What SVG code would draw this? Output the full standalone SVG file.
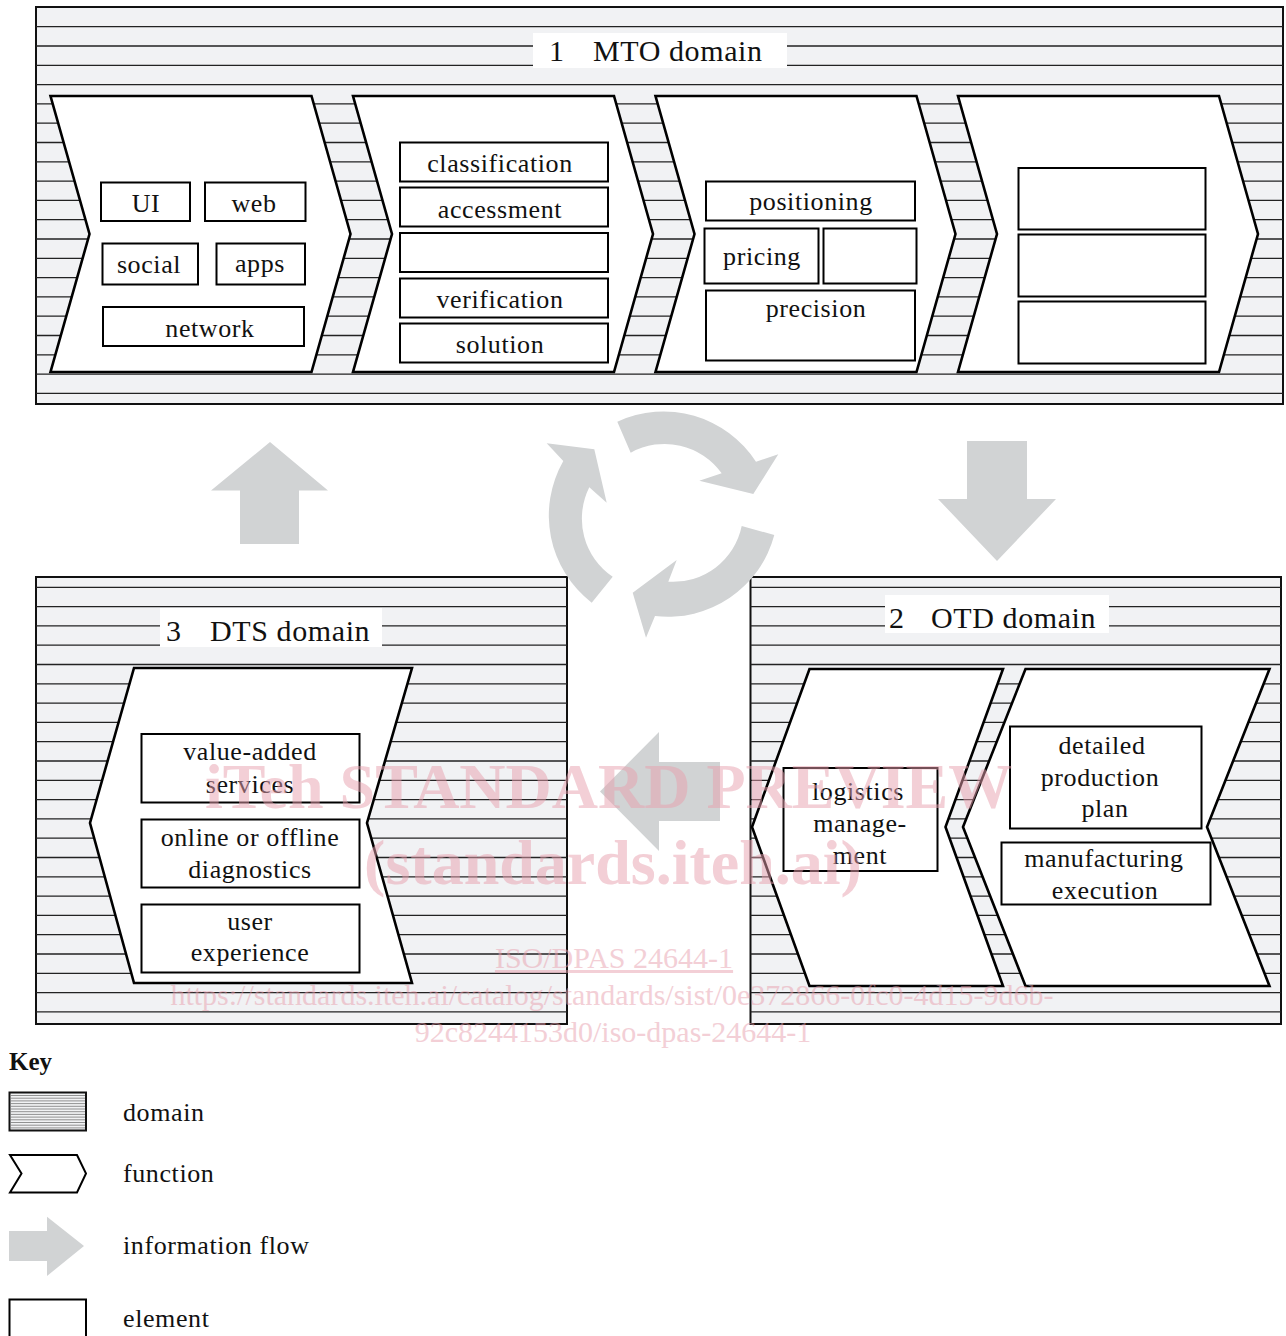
<svg xmlns="http://www.w3.org/2000/svg" width="1286" height="1336" viewBox="0 0 1286 1336">
<style>
.dom{fill:#f1f2f4;stroke:#111;stroke-width:2}
.hatch{fill:none;stroke:#222;stroke-width:1.3}
.fn{fill:#fff;stroke:#000;stroke-width:2.6;stroke-linejoin:miter}
.el{fill:#fff;stroke:#000;stroke-width:2}
.lbl{fill:#fff;stroke:none}
.flow{fill:#d1d3d4;stroke:none}
text{font-family:"Liberation Serif","DejaVu Serif",serif;fill:#111}
.t{font-size:26px;letter-spacing:0.6px;text-anchor:middle}
.k{font-size:26px;letter-spacing:0.6px}
.h{font-size:30px;letter-spacing:0.6px}
.wm{fill:#e8a0ae;opacity:0.5;font-family:"Liberation Serif",serif}
</style>

<g id="domain-mto">
<rect class="dom" x="36" y="7" width="1247" height="397"/>
<path class="hatch" d="M36 26.7H1283M36 46H1283M36 65.3H1283M36 84.6H1283M36 103.9H1283M36 123.2H1283M36 142.5H1283M36 161.8H1283M36 181.1H1283M36 200.4H1283M36 219.7H1283M36 239H1283M36 258.3H1283M36 277.6H1283M36 296.9H1283M36 316.2H1283M36 335.5H1283M36 354.8H1283M36 374.1H1283M36 393.4H1283"/>
<rect class="lbl" x="533" y="33" width="254" height="35"/>
<text class="h" x="549" y="61">1</text>
<text class="h" x="593" y="61">MTO domain</text>
</g>

<g id="domain-dts">
<rect class="dom" x="36" y="577" width="531" height="447"/>
<path class="hatch" d="M36 587.3H567M36 606.6H567M36 625.9H567M36 645.2H567M36 664.5H567M36 683.8H567M36 703.1H567M36 722.4H567M36 741.7H567M36 761H567M36 780.3H567M36 799.6H567M36 818.9H567M36 838.2H567M36 857.5H567M36 876.8H567M36 896.1H567M36 915.4H567M36 934.7H567M36 954H567M36 973.3H567M36 992.6H567M36 1011.9H567"/>
<rect class="lbl" x="160" y="608" width="222" height="39"/>
<text class="h" x="166" y="640.5">3</text>
<text class="h" x="210" y="640.5">DTS domain</text>
</g>

<g id="domain-otd">
<rect class="dom" x="750.5" y="577" width="530.5" height="447"/>
<path class="hatch" d="M750.5 587.3H1281M750.5 606.6H1281M750.5 625.9H1281M750.5 645.2H1281M750.5 664.5H1281M750.5 683.8H1281M750.5 703.1H1281M750.5 722.4H1281M750.5 741.7H1281M750.5 761H1281M750.5 780.3H1281M750.5 799.6H1281M750.5 818.9H1281M750.5 838.2H1281M750.5 857.5H1281M750.5 876.8H1281M750.5 896.1H1281M750.5 915.4H1281M750.5 934.7H1281M750.5 954H1281M750.5 973.3H1281M750.5 992.6H1281M750.5 1011.9H1281"/>
<rect class="lbl" x="885" y="595" width="224" height="38"/>
<text class="h" x="889" y="627.5">2</text>
<text class="h" x="931" y="627.5">OTD domain</text>
</g>

<g id="fn-mto-1">
<path class="fn" d="M50.5 96H311.5L350.5 234L311.5 372H50.5L89.5 234Z"/>
<rect class="el" x="101" y="182.5" width="89" height="38.5"/>
<rect class="el" x="205" y="182.5" width="100.5" height="38.5"/>
<rect class="el" x="102.5" y="243.5" width="95.5" height="41"/>
<rect class="el" x="216.5" y="243.5" width="88.5" height="41"/>
<rect class="el" x="103" y="307" width="201" height="39"/>
<text class="t" x="146" y="212">UI</text>
<text class="t" x="254" y="212">web</text>
<text class="t" x="149" y="273">social</text>
<text class="t" x="260" y="272">apps</text>
<text class="t" x="210" y="337">network</text>
</g>

<g id="fn-mto-2">
<path class="fn" d="M353 96H614L653 234L614 372H353L392 234Z"/>
<rect class="el" x="400" y="142.5" width="208" height="39"/>
<rect class="el" x="400" y="187.5" width="208" height="39"/>
<rect class="el" x="400" y="233" width="208" height="39"/>
<rect class="el" x="400" y="278.5" width="208" height="39"/>
<rect class="el" x="400" y="323.5" width="208" height="39"/>
<text class="t" x="500" y="172">classification</text>
<text class="t" x="500" y="217.5">accessment</text>
<text class="t" x="500" y="307.5">verification</text>
<text class="t" x="500" y="353">solution</text>
</g>

<g id="fn-mto-3">
<path class="fn" d="M655.5 96H916.5L955.5 234L916.5 372H655.5L694.5 234Z"/>
<rect class="el" x="706" y="181.5" width="209" height="39"/>
<rect class="el" x="704.5" y="228.5" width="114" height="55"/>
<rect class="el" x="823.5" y="228.5" width="93" height="55"/>
<rect class="el" x="706" y="290.5" width="209" height="70"/>
<text class="t" x="811" y="210">positioning</text>
<text class="t" x="762" y="265">pricing</text>
<text class="t" x="816" y="317">precision</text>
</g>

<g id="fn-mto-4">
<path class="fn" d="M958 96H1219L1258 234L1219 372H958L997 234Z"/>
<rect class="el" x="1018.5" y="168" width="187" height="61.5"/>
<rect class="el" x="1018.5" y="234.5" width="187" height="62"/>
<rect class="el" x="1018.5" y="301.5" width="187" height="62"/>
</g>

<g id="fn-dts">
<path class="fn" d="M134 668H412L367 823L412 983H134L90 823Z"/>
<rect class="el" x="141.5" y="734" width="218" height="68.5"/>
<rect class="el" x="141.5" y="819.5" width="218" height="68"/>
<rect class="el" x="141.5" y="904.5" width="218" height="68"/>
<text class="t" x="250" y="760">value-added</text>
<text class="t" x="250" y="792.5">services</text>
<text class="t" x="250" y="846">online or offline</text>
<text class="t" x="250" y="878">diagnostics</text>
<text class="t" x="250" y="929.5">user</text>
<text class="t" x="250" y="961">experience</text>
</g>

<g id="fn-otd-1">
<path class="fn" d="M809.5 669H1003L945.5 827L1003 986H809.5L752 827Z"/>
<rect class="el" x="783.5" y="768" width="154" height="103"/>
<text class="t" x="858" y="800">logistics</text>
<text class="t" x="860" y="832">manage-</text>
<text class="t" x="860" y="864">ment</text>
</g>

<g id="fn-otd-2">
<path class="fn" d="M1025.5 669H1269.5L1207 827L1269.5 986H1025.5L963 827Z"/>
<rect class="el" x="1010" y="726.5" width="191.5" height="102"/>
<rect class="el" x="1001.5" y="842.5" width="209" height="62"/>
<text class="t" x="1102" y="753.5">detailed</text>
<text class="t" x="1100" y="785.5">production</text>
<text class="t" x="1105" y="817">plan</text>
<text class="t" x="1104" y="866.5">manufacturing</text>
<text class="t" x="1105" y="898.5">execution</text>
</g>

<g id="connectors">
<path class="flow" d="M240 544V490.5H211L270 442L328 490.5H299V544Z"/>
<path class="flow" d="M967 441H1027V499H1056L997 561L938 499H967Z"/>
<path class="flow" d="M720 762V821H659V851L600 791.5L659 732V762Z"/>
<g id="cycle">
<path class="flow" d="M591.7 602.7A110 110 0 0 1 563.3 461L546.7 443.3L594.3 449.3L606.7 502.7L589.3 487.3A70 70 0 0 0 612.7 576.7Z"/>
<path class="flow" d="M617.3 421.7A110 110 0 0 1 756 461.7L778.3 454.3L753.3 494L699.3 480.7L721.7 473.3A70 70 0 0 0 630.7 452.7Z"/>
<path class="flow" d="M741.7 526L774.3 535A110 110 0 0 1 655 616L646 637.7L632.7 592.7L676.7 560L668.3 581.7A70 70 0 0 0 741.7 526Z"/>
</g>
</g>

<g id="key">
<text x="9" y="1070" style="font-size:25px;font-weight:bold">Key</text>
<g id="key-domain">
<rect x="9.5" y="1092.5" width="76.5" height="38" fill="#f1f2f4" stroke="#111" stroke-width="2"/>
<path stroke="#777" stroke-width="0.8" fill="none" d="M10.5 1095.5H85M10.5 1098.2H85M10.5 1100.9H85M10.5 1103.6H85M10.5 1106.3H85M10.5 1109H85M10.5 1111.7H85M10.5 1114.4H85M10.5 1117.1H85M10.5 1119.8H85M10.5 1122.5H85M10.5 1125.2H85M10.5 1127.9H85"/>
</g>
<path id="key-function" class="fn" style="stroke-width:2" d="M10 1155H77L86 1173.5L77 1192.5H10L21.5 1173.5Z"/>
<path id="key-flow" class="flow" d="M9 1231H47V1216.7L84 1246L47 1276V1261H9Z"/>
<rect id="key-element" class="el" x="9.5" y="1299.5" width="76.5" height="45"/>
<text class="k" x="123" y="1121">domain</text>
<text class="k" x="123" y="1182">function</text>
<text class="k" x="123" y="1254">information flow</text>
<text class="k" x="123" y="1327">element</text>
</g>

<g id="watermark">
<text class="wm" x="205" y="808" style="font-size:64px;font-weight:bold">iTeh STANDARD PREVIEW</text>
<text class="wm" x="613" y="884" style="font-size:64px;font-weight:bold;text-anchor:middle">(standards.iteh.ai)</text>
<text class="wm" x="614" y="968" style="font-size:30px;text-anchor:middle;text-decoration:underline">ISO/DPAS 24644-1</text>
<text class="wm" x="612" y="1005" style="font-size:30px;text-anchor:middle">https://standards.iteh.ai/catalog/standards/sist/0e372866-0fc0-4d15-9d6b-</text>
<text class="wm" x="613" y="1042" style="font-size:30px;text-anchor:middle">92c8244153d0/iso-dpas-24644-1</text>
</g>
</svg>
